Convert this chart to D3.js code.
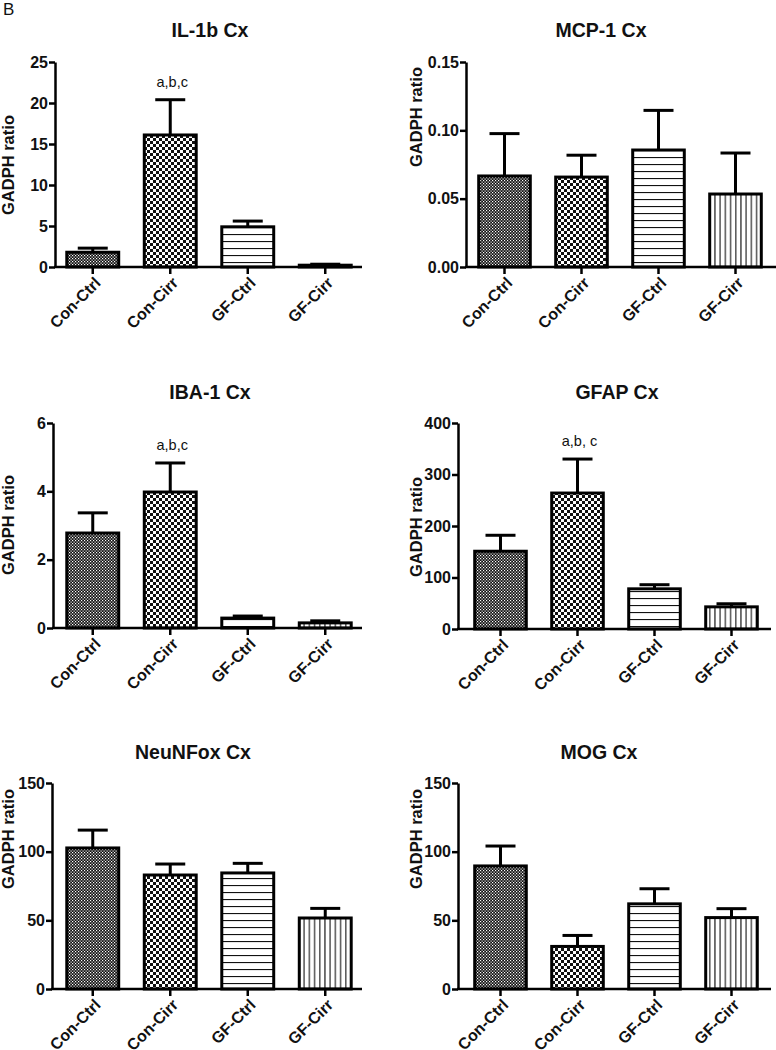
<!DOCTYPE html>
<html><head><meta charset="utf-8">
<script src="https://cdn.jsdelivr.net/npm/d3@7"></script>
<style>
body{margin:0;background:#fff}
svg{display:block}
text{font-family:"Liberation Sans",Arial,Helvetica,sans-serif;fill:#111}
</style>
</head><body>
<svg id="c" width="776" height="1050"></svg>
<script>
// ---------------- data ----------------
const categories = ["Con-Ctrl", "Con-Cirr", "GF-Ctrl", "GF-Cirr"];
const titles = ["IL-1b Cx", "MCP-1 Cx", "IBA-1 Cx", "GFAP Cx", "NeuNFox Cx", "MOG Cx"];
const yLabel = "GADPH ratio";
const panelLetter = "B";

const il1bMean = [1.8, 16.1, 4.9, 0.22];
const il1bErr  = [0.5, 4.3, 0.7, 0.12];
const mcp1Mean = [0.0666, 0.0658, 0.0856, 0.0534];
const mcp1Err  = [0.031, 0.016, 0.029, 0.030];
const iba1Mean = [2.78, 3.98, 0.29, 0.15];
const iba1Err  = [0.59, 0.85, 0.06, 0.06];
const gfapMean = [151, 264, 78, 43];
const gfapErr  = [31, 66, 8, 6];
const neunMean = [102.7, 83, 84.5, 51.7];
const neunErr  = [13, 8, 7, 7];
const mogMean  = [89.6, 31, 62, 52];
const mogErr   = [14.5, 8, 11, 6.5];

const il1bTicks = [0, 5, 10, 15, 20, 25];
const mcp1Ticks = [0, 0.05, 0.10, 0.15];
const iba1Ticks = [0, 2, 4, 6];
const gfapTicks = [0, 100, 200, 300, 400];
const neunTicks = [0, 50, 100, 150];
const mogTicks  = [0, 50, 100, 150];

const notes = ["a,b,c", "", "a,b,c", "a,b, c", "", ""];
const noteIndex = 1;

// ---------------- panels ----------------
const fmtInt = d3.format("d"), fmt2 = d3.format(".2f");
const panels = [
  {title: titles[0], mean: il1bMean, err: il1bErr, ticks: il1bTicks, fmt: fmtInt, note: notes[0]},
  {title: titles[1], mean: mcp1Mean, err: mcp1Err, ticks: mcp1Ticks, fmt: fmt2,   note: notes[1]},
  {title: titles[2], mean: iba1Mean, err: iba1Err, ticks: iba1Ticks, fmt: fmtInt, note: notes[2]},
  {title: titles[3], mean: gfapMean, err: gfapErr, ticks: gfapTicks, fmt: fmtInt, note: notes[3]},
  {title: titles[4], mean: neunMean, err: neunErr, ticks: neunTicks, fmt: fmtInt, note: notes[4]},
  {title: titles[5], mean: mogMean,  err: mogErr,  ticks: mogTicks,  fmt: fmtInt, note: notes[5]}
];
const layout = [
  {ax: 55,  x0: 54,  x1: 364, xEnd: 362, yTop: 62,  yBot: 267, tx: 210, ty: 37,  lx: 13.5, ly: 165},
  {ax: 466, x0: 466, x1: 774, xEnd: 776, yTop: 62,  yBot: 267, tx: 601, ty: 37,  lx: 422,  ly: 117},
  {ax: 53,  x0: 54,  x1: 364, xEnd: 362, yTop: 423, yBot: 628, tx: 210, ty: 399, lx: 13.5, ly: 525},
  {ax: 458, x0: 462, x1: 770, xEnd: 771, yTop: 423, yBot: 629, tx: 617, ty: 399, lx: 422,  ly: 527},
  {ax: 52,  x0: 54,  x1: 364, xEnd: 362, yTop: 783, yBot: 989, tx: 193, ty: 759, lx: 13.5, ly: 839},
  {ax: 458, x0: 462, x1: 770, xEnd: 771, yTop: 783, yBot: 989, tx: 599, ty: 759, lx: 422,  ly: 839}
];

const svg = d3.select("#c");
const defs = svg.append("defs");

// Patterns
function pat(id, w, h, build) {
  const p = defs.append("pattern").attr("id", id).attr("patternUnits", "userSpaceOnUse")
    .attr("width", w).attr("height", h);
  build(p);
}
pat("p0", 3, 3, p => {
  p.append("rect").attr("width", 3).attr("height", 3).attr("fill", "#111");
  p.append("rect").attr("x", 0).attr("y", 0).attr("width", 1.2).attr("height", 1.2).attr("fill", "#fff");
  p.append("rect").attr("x", 1.5).attr("y", 1.5).attr("width", 1.2).attr("height", 1.2).attr("fill", "#fff");
});
pat("p1", 6, 6, p => {
  p.append("rect").attr("width", 6).attr("height", 6).attr("fill", "#111");
  p.append("rect").attr("x", 0).attr("y", 0).attr("width", 3).attr("height", 3).attr("fill", "#fff");
  p.append("rect").attr("x", 3).attr("y", 3).attr("width", 3).attr("height", 3).attr("fill", "#fff");
});
pat("p2", 10, 7, p => {
  p.append("rect").attr("width", 10).attr("height", 7).attr("fill", "#fff");
  p.append("rect").attr("x", 0).attr("y", 3).attr("width", 10).attr("height", 1.1).attr("fill", "#111");
});
pat("p3", 5.2, 10, p => {
  p.append("rect").attr("width", 5.2).attr("height", 10).attr("fill", "#fff");
  p.append("rect").attr("x", 2).attr("y", 0).attr("width", 1.1).attr("height", 10).attr("fill", "#111");
});
const fills = ["url(#p0)", "url(#p1)", "url(#p2)", "url(#p3)"];

svg.append("text").attr("x", 3).attr("y", 15).attr("font-size", 17).text(panelLetter);

panels.forEach((P, i) => {
  const L = layout[i];
  const g = svg.append("g");
  const x = d3.scaleBand().domain(categories).range([L.x0, L.x1]).paddingInner(0.33).paddingOuter(0.165);
  const y = d3.scaleLinear().domain([P.ticks[0], P.ticks[P.ticks.length - 1]]).range([L.yBot, L.yTop]);

  // title
  g.append("text").attr("x", L.tx).attr("y", L.ty).attr("text-anchor", "middle")
    .attr("font-size", 19.5).attr("font-weight", "bold").text(P.title);
  // y label
  g.append("text").attr("transform", `translate(${L.lx},${L.ly}) rotate(-90)`)
    .attr("text-anchor", "middle").attr("font-size", 16.5).attr("font-weight", "bold").text(yLabel);

  // bars
  const data = categories.map((c, k) => ({c, k, m: P.mean[k], e: P.err[k]}));
  g.selectAll("rect.bar").data(data).join("rect").attr("class", "bar")
    .attr("x", d => x(d.c)).attr("width", x.bandwidth())
    .attr("y", d => y(d.m)).attr("height", d => y(0) - y(d.m))
    .attr("fill", d => fills[d.k]).attr("stroke", "#000").attr("stroke-width", 3);

  // error bars
  const eg = g.selectAll("g.err").data(data).join("g").attr("class", "err");
  eg.append("line")
    .attr("x1", d => x(d.c) + x.bandwidth() / 2).attr("x2", d => x(d.c) + x.bandwidth() / 2)
    .attr("y1", d => y(d.m)).attr("y2", d => y(d.m + d.e))
    .attr("stroke", "#000").attr("stroke-width", 3);
  eg.append("line")
    .attr("x1", d => x(d.c) + x.bandwidth() / 2 - 15).attr("x2", d => x(d.c) + x.bandwidth() / 2 + 15)
    .attr("y1", d => y(d.m + d.e)).attr("y2", d => y(d.m + d.e))
    .attr("stroke", "#000").attr("stroke-width", 3);

  // annotation
  if (P.note) {
    const d = data[noteIndex];
    g.append("text").attr("x", x(d.c) + x.bandwidth() / 2 + 2).attr("y", y(d.m + d.e) - 13)
      .attr("text-anchor", "middle").attr("font-size", 14.5).text(P.note);
  }

  // y axis
  const ya = g.append("g").attr("transform", `translate(${L.ax},0)`)
    .call(d3.axisLeft(y).tickValues(P.ticks).tickFormat(P.fmt).tickSize(6).tickSizeOuter(0).tickPadding(1));
  ya.select(".domain").attr("stroke", "#000").attr("stroke-width", 2.5);
  ya.selectAll(".tick line").attr("stroke", "#000").attr("stroke-width", 2.5);
  ya.selectAll(".tick text").attr("font-size", 16).attr("font-weight", "bold")
    .attr("font-family", "'Liberation Sans',Arial,sans-serif").attr("fill", "#111");

  // x axis
  g.append("line").attr("x1", L.ax - 1).attr("x2", L.xEnd).attr("y1", L.yBot).attr("y2", L.yBot)
    .attr("stroke", "#000").attr("stroke-width", 2.5);
  const xa = g.append("g").attr("transform", `translate(0,${L.yBot})`)
    .call(d3.axisBottom(x).tickSize(7).tickSizeOuter(0).tickFormat(""));
  xa.select(".domain").remove();
  xa.selectAll(".tick line").attr("stroke", "#000").attr("stroke-width", 2.5);
  g.selectAll("text.xl").data(categories).join("text").attr("class", "xl")
    .attr("transform", c => `translate(${x(c) + x.bandwidth() / 2 + 5},${L.yBot + 13}) rotate(-45)`)
    .attr("text-anchor", "end").attr("dy", "0.35em")
    .attr("font-size", 16).attr("font-weight", "bold").text(c => c);
});
</script>
</body></html>
